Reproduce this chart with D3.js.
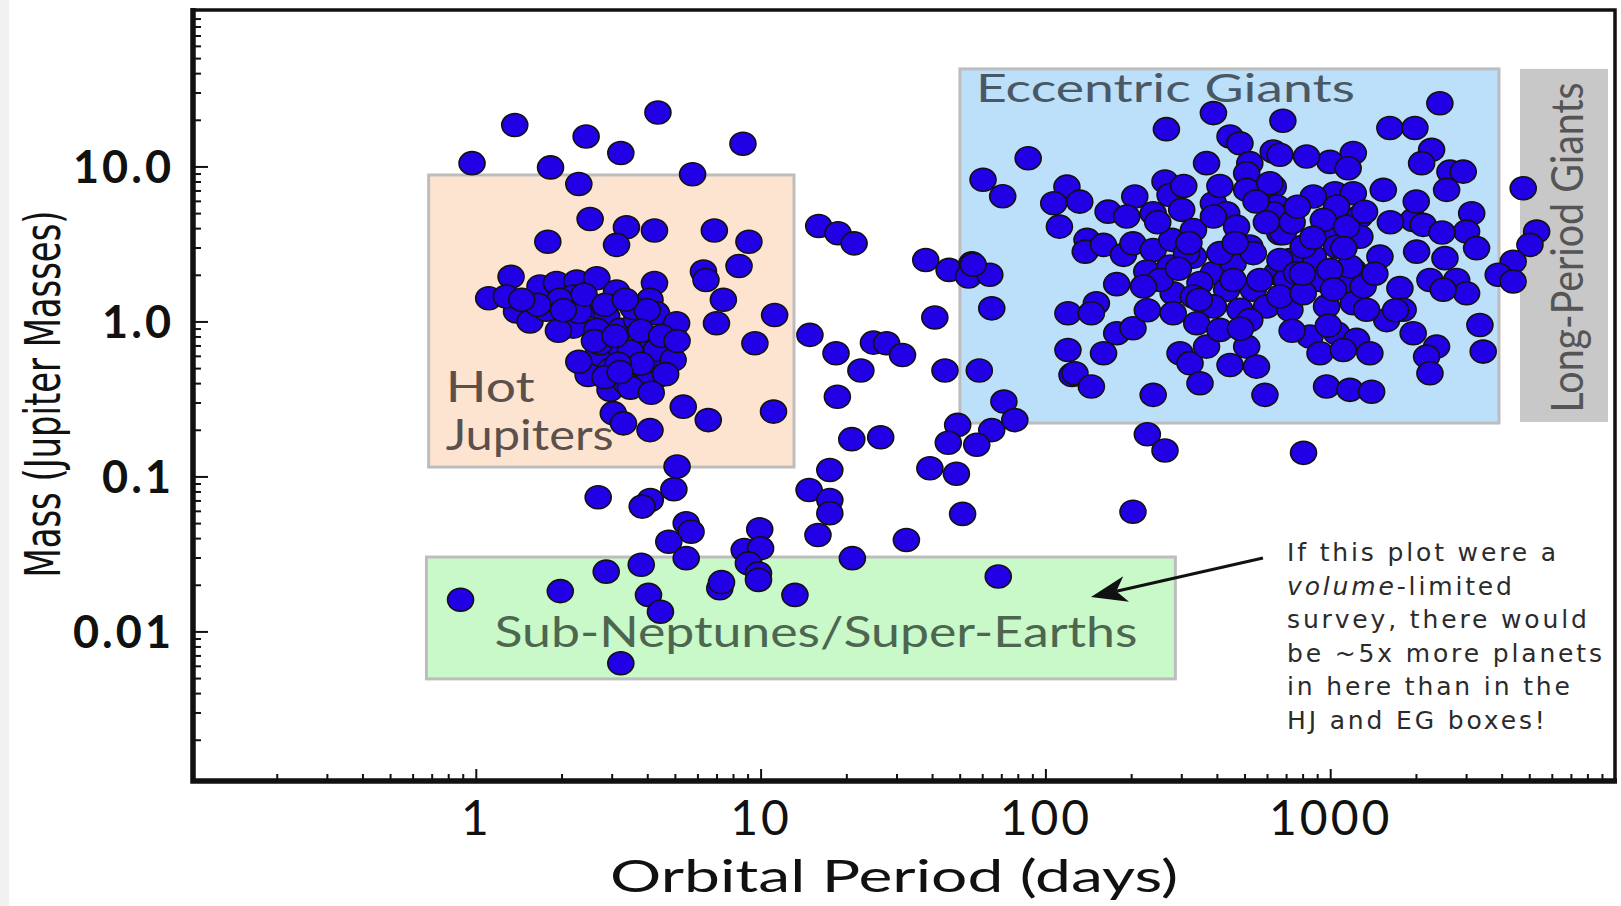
<!DOCTYPE html>
<html><head><meta charset="utf-8">
<script src="https://cdn.jsdelivr.net/npm/d3@7"></script>
<style>
html,body{margin:0;padding:0;background:#fff;}
svg{display:block;}
</style></head><body>
<svg id="chart" width="1621" height="906"></svg>
<script>
// ---------- DATA ----------
const periods = [
  0.97,1.37,2.44,3.23,4.36,8.67,1.83,2.30,5.77,2.52,1.79,3.38,4.24,3.12,6.88,9.10,8.40,6.30,6.43,1.33,4.24,
  16.0,18.7,21.3,38.0,45.9,55.2,53.7,63.8,60.4,70.8,
  1.11,1.68,1.92,2.26,2.66,3.12,4.09,1.39,1.55,1.77,2.20,2.52,2.20,2.88,3.21,3.67,4.31,5.07,3.98,4.80,3.12,2.66,3.38,3.87,4.55,3.67,2.48,2.96,4.31,2.96,3.38,3.04,3.30,4.09,5.35,6.55,11.1,7.40,7.00,11.2,9.55,2.66,3.57,4.31,4.93,2.73,3.98,1.97,1.28,3.49,3.80,3.16,2.30,1.95,4.64,4.00,
  2.40,2.84,3.35,3.80,4.49,2.61,3.08,3.49,4.13,2.84,2.30,2.03,1.65,1.45,5.09,3.21,
  5.09,2.69,4.10,3.84,4.96,17.5,14.8,17.5,17.5,15.9,39.3,48.7,51.2,32.5,21.0,68.3,5.48,5.70,4.76,5.48,9.93,8.76,10.0,9.06,9.83,9.83,7.19,13.2,3.81,2.87,1.98,0.884,4.04,4.45,3.23,203,806,228,263,7.29,
  14.9,18.4,22.5,18.6,24.9,27.7,31.5,40.9,44.4,58.6,64.8,120,120,124,71.5,78.1,64.8,49.2,45.6,57.4,20.9,26.4,
  389,266,682,87.0,445,482,368,522,631,119,107,132,206,166,193,263,274,301,389,433,509,509,631,112,140,138,160,188,203,239,278,331,389,469,522,666,227,274,331,389,456,537,649,281,349,433,537,389,482,598,340,522,55.8,151,145,178,203,160,127,145,239,297,322,368,349,445,509,551,590,
  2427,1620,1983,2270,2094,2633,2932,2563,3139,3012,3266,4761,5307,5027,4390,3890,4390,3355,3445,1536,1956,2121,2011,2529,2779,3012,2240,2493,1757,1804,1579,1956,2363,2180,2240,971,1173,1398,1205,998,826,1156,666,1039,872,1205,1039,1271,998,1271,1053,872,1495,722,1205,921,703,1111,971,1205,1342,722,849,1053,1237,921,1111,1378,684,649,614,
  631,666,566,666,313,253,456,410,804,762,804,1173,1305,998,1053,946,1142,331,281,410,221,239,
  319,464,735,869,597,347,484,735,985,293,799,1117,1435,1627,1696,248,410,767,178,228,1027,549,306,1320,2005,2470
];
const masses = [
  10.5,18.5,15.6,12.2,22.3,14.0,9.86,7.71,8.91,4.58,3.27,4.05,3.86,3.12,3.86,3.27,2.28,2.10,1.85,1.94,1.77,
  4.13,3.71,3.19,2.49,2.15,2.37,1.95,2.00,8.20,6.42,
  1.41,1.68,1.77,1.81,1.90,1.56,1.38,1.16,1.00,1.19,1.45,1.25,0.926,1.075,0.882,1.02,1.13,0.974,0.798,0.706,0.688,0.593,0.565,0.511,0.538,0.452,0.452,0.487,0.440,0.362,0.399,0.256,0.220,0.199,0.282,0.231,0.262,1.38,0.974,1.10,0.723,0.882,1.22,0.654,0.565,0.723,0.399,1.38,1.45,0.641,0.533,0.533,1.15,0.871,0.457,1.18,
  1.49,1.28,1.38,0.871,0.806,0.747,0.806,0.374,0.347,0.436,0.549,1.18,1.28,1.38,0.747,0.471,
  0.116,0.0734,0.0705,0.0639,0.0827,0.110,0.0818,0.0705,0.0579,0.0419,0.113,0.104,0.0573,0.0389,0.0297,0.0226,0.0499,0.0440,0.0379,0.0297,0.0456,0.0335,0.0344,0.0275,0.0237,0.0215,0.0190,0.0172,0.0269,0.0243,0.0182,0.0160,0.0172,0.0134,0.00623,0.0592,0.142,0.187,0.147,0.0208,
  0.819,0.623,0.482,0.327,0.730,0.723,0.608,1.06,0.482,0.482,1.215,1.13,0.654,0.452,0.304,0.231,0.199,0.215,0.165,0.160,0.174,0.179,
  22.1,17.4,19.7,11.3,15.6,14.1,10.5,10.5,12.5,7.41,5.79,5.93,6.40,5.11,4.75,7.99,6.55,5.25,5.79,4.99,9.04,7.06,7.41,4.09,3.36,2.82,3.12,2.69,3.19,2.89,3.36,3.89,4.75,4.09,3.04,3.71,2.10,2.26,2.62,2.05,2.37,2.76,2.05,1.52,1.77,1.60,1.60,1.25,1.19,1.25,0.974,1.02,2.32,1.31,1.13,0.839,0.904,0.623,0.463,0.380,0.336,0.623,0.538,0.688,0.399,0.524,0.688,0.511,0.336,
  25.6,17.7,17.7,12.8,10.5,9.26,9.26,7.06,4.99,3.80,2.97,7.23,3.80,3.12,2.43,2.00,1.81,0.949,0.639,7.06,4.52,4.20,2.82,2.56,1.85,1.52,1.85,1.60,1.64,1.19,1.02,0.839,0.688,0.593,0.463,0.380,0.362,0.352,12.2,10.7,11.6,9.74,11.9,6.72,6.40,6.72,4.99,4.75,4.09,3.52,3.04,2.62,2.62,2.49,2.15,1.85,1.85,1.77,1.25,1.31,1.19,1.19,0.798,0.839,0.760,0.623,0.654,0.623,3.71,5.51,7.80,
  4.99,2.49,1.85,1.45,2.76,1.85,1.85,2.76,3.04,2.05,1.52,2.26,1.68,2.15,5.51,4.52,4.09,1.45,1.13,0.882,1.68,4.99,
  3.21,3.21,4.37,3.47,4.37,1.38,0.898,0.871,0.940,2.19,2.03,2.98,2.03,4.37,1.18,4.37,7.48,5.50,1.74,1.18,1.61,5.94,7.48,5.10,5.94,3.75
];

const xTickValues = [1, 10, 100, 1000];
const xTickLabels = ["1", "10", "100", "1000"];
const yTickValues = [0.01, 0.1, 1, 10];
const yTickLabels = ["0.01", "0.1", "1.0", "10.0"];

const regionNames = ["Hot Jupiters", "Eccentric Giants", "Long-Period Giants", "Sub-Neptunes/Super-Earths"];
const regionPeriodMin = [0.683, 50.1, 4638, 0.671];
const regionPeriodMax = [13.1, 3914, 9450, 286];
const regionMassMin = [0.115, 0.221, 0.2247, 0.00494];
const regionMassMax = [8.81, 42.6, 42.6, 0.0302];

const noteLines = ["If this plot were a", "volume-limited", "survey, there would", "be ~5x more planets", "in here than in the", "HJ and EG boxes!"];
const xTitle = "Orbital Period (days)";
const yTitle = "Mass (Jupiter Masses)";

// ---------- CHART ----------
const svg = d3.select("#chart");
const x = d3.scaleLog().domain([0.1, 10000]).range([191, 1615]);
const y = d3.scaleLog().domain([0.0011, 102.2]).range([780, 10]);

svg.append("rect").attr("x",0).attr("y",0).attr("width",9).attr("height",906).attr("fill","#f1f1f1");

const regions = regionNames.map((n,i)=>({name:n, x0:regionPeriodMin[i], x1:regionPeriodMax[i], y0:regionMassMin[i], y1:regionMassMax[i]}));
const regionFills = ["#fde4d0","#bcdffa","#c8c8c8","#c9f8c9"];
const regionStrokes = ["#bdbdbd","#bdbdbd","none","#bdbdbd"];
svg.append("g").selectAll("rect").data(regions).join("rect")
  .attr("x", d=>x(d.x0)).attr("y", d=>y(d.y1))
  .attr("width", d=>x(d.x1)-x(d.x0)).attr("height", d=>y(d.y0)-y(d.y1))
  .attr("fill",(d,i)=>regionFills[i]).attr("stroke",(d,i)=>regionStrokes[i]).attr("stroke-width",3);

const lab = svg.append("g").attr("font-family","Lato, 'Open Sans', sans-serif");
const hj = regions[0], eg = regions[1], lp = regions[2], sn = regions[3];
lab.append("text").attr("x", x(hj.x0)+17).attr("y", y(hj.y0)-65).attr("font-size",42).attr("fill","#5b504b")
  .attr("textLength",89).attr("lengthAdjust","spacingAndGlyphs").text("Hot");
lab.append("text").attr("x", x(hj.x0)+17).attr("y", y(hj.y0)-17).attr("font-size",42).attr("fill","#5b504b")
  .attr("textLength",168).attr("lengthAdjust","spacingAndGlyphs").text("Jupiters");
lab.append("text").attr("x", x(eg.x0)+16).attr("y", y(eg.y1)+33).attr("font-size",39).attr("fill","#4a5864")
  .attr("textLength",379).attr("lengthAdjust","spacingAndGlyphs").text(eg.name);
const lpcx = (x(lp.x0)+x(lp.x1))/2, lpcy = (y(lp.y0)+y(lp.y1))/2;
lab.append("text").attr("transform",`translate(${lpcx+19},${lpcy+2}) rotate(-90)`).attr("text-anchor","middle")
  .attr("font-size",44).attr("fill","#555555")
  .attr("textLength",330).attr("lengthAdjust","spacingAndGlyphs").text(lp.name);
lab.append("text").attr("x", x(sn.x0)+68).attr("y", y(sn.y1)+90).attr("font-size",42).attr("fill","#4d6650")
  .attr("textLength",643).attr("lengthAdjust","spacingAndGlyphs").text(sn.name);

// axes
const isPow10 = v => Math.abs(Math.log10(v) - Math.round(Math.log10(v))) < 1e-6;
const xMinor = x.ticks().filter(v => !isPow10(v));
const yMinor = y.ticks().filter(v => !isPow10(v));

const gxm = svg.append("g").attr("transform","translate(0,780)")
  .call(d3.axisBottom(x).tickValues(xMinor).tickSize(-6).tickFormat(""));
const gx = svg.append("g").attr("transform","translate(0,780)")
  .call(d3.axisBottom(x).tickValues(xTickValues).tickSize(-11).tickPadding(21).tickFormat((d,i)=>xTickLabels[i]));
const gym = svg.append("g").attr("transform","translate(193,0)")
  .call(d3.axisLeft(y).tickValues(yMinor).tickSize(-8).tickFormat(""));
const gy = svg.append("g").attr("transform","translate(193,0)")
  .call(d3.axisLeft(y).tickValues(yTickValues).tickSize(-15).tickPadding(19).tickFormat((d,i)=>yTickLabels[i]));
[gxm,gx,gym,gy].forEach(g=>{ g.select(".domain").remove(); g.selectAll(".tick line").attr("stroke","#111").attr("stroke-width",2); });
gx.selectAll("text").attr("font-family","Lato, sans-serif").attr("font-size",48).attr("fill","#111").attr("letter-spacing","3px");
gy.selectAll("text").attr("font-family","Lato, sans-serif").attr("font-weight",700).attr("font-size",45).attr("fill","#111")
  .attr("letter-spacing","3px").attr("dy","0.36em");

// frame
svg.append("rect").attr("x",193).attr("y",10).attr("width",1422).attr("height",771)
  .attr("fill","none").attr("stroke","#111").attr("stroke-width",3.5);
svg.append("path").attr("d","M193,8V781H1617").attr("fill","none").attr("stroke","#111").attr("stroke-width",5.5);

// axis titles
svg.append("text").attr("x",894).attr("y",892).attr("text-anchor","middle")
  .attr("font-family","Lato, sans-serif").attr("font-size",45).attr("fill","#111")
  .attr("textLength",568).attr("lengthAdjust","spacingAndGlyphs").text(xTitle);
svg.append("text").attr("transform","translate(60,394) rotate(-90)").attr("text-anchor","middle")
  .attr("font-family","'Liberation Sans Narrow', 'DejaVu Sans Condensed', sans-serif").attr("font-size",50).attr("fill","#111")
  .attr("textLength",367).attr("lengthAdjust","spacingAndGlyphs").text(yTitle);

// points
const pts = periods.map((p,i)=>({p, m: masses[i]}));
svg.append("g").selectAll("ellipse").data(pts).join("ellipse")
  .attr("cx", d=>x(d.p)).attr("cy", d=>y(d.m)).attr("rx",13).attr("ry",11.5)
  .attr("fill","#2200e6").attr("stroke","#111").attr("stroke-width",1.6);

// annotation
const note = svg.append("g").attr("font-family","'DejaVu Sans', sans-serif").attr("font-size",25).attr("fill","#2b2b2b");
const nl = note.selectAll("text").data(noteLines).join("text")
  .attr("x",1287).attr("y",(d,i)=>561+i*33.5);
nl.each(function(d,i){
  const t = d3.select(this);
  if (i===1){ t.append("tspan").attr("font-style","italic").text("volume"); t.append("tspan").text("-limited"); }
  else t.text(d);
});
const w4 = nl.nodes()[3].getComputedTextLength();
const ls = (315 - w4) / (noteLines[3].length - 1);
nl.attr("letter-spacing", ls + "px");

// arrow
const S = [1263,558], T = [1091,597];
const dx = T[0]-S[0], dy = T[1]-S[1], len = Math.hypot(dx,dy), ux = dx/len, uy = dy/len;
const L = 36, W = 13, notch = 10;
const B = [T[0]-ux*L, T[1]-uy*L], N = [T[0]-ux*(L-notch), T[1]-uy*(L-notch)];
svg.append("line").attr("x1",S[0]).attr("y1",S[1]).attr("x2",N[0]).attr("y2",N[1]).attr("stroke","#111").attr("stroke-width",3);
svg.append("path").attr("d",`M${T[0]},${T[1]}L${B[0]-uy*W},${B[1]+ux*W}L${N[0]},${N[1]}L${B[0]+uy*W},${B[1]-ux*W}Z`).attr("fill","#111");
</script>
</body></html>
